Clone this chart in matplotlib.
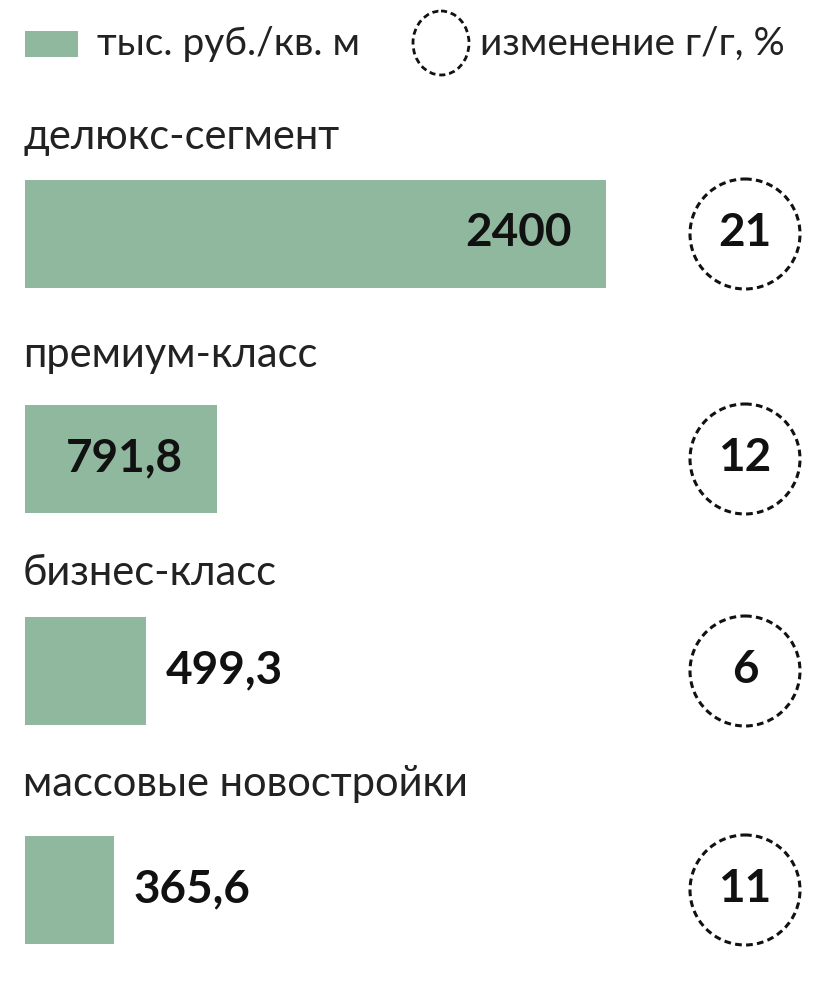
import matplotlib
matplotlib.use("Agg")
import matplotlib.pyplot as plt
from matplotlib.patches import Ellipse, Rectangle

# Price per square metre by housing segment, and year-over-year change
categories = ["делюкс-сегмент", "премиум-класс", "бизнес-класс", "массовые новостройки"]
prices = [2400, 791.8, 499.3, 365.6]
price_labels = ["2400", "791,8", "499,3", "365,6"]
yoy_change = [21, 12, 6, 11]
legend_labels = ["тыс. руб./кв. м", "изменение г/г, %"]

BAR_COLOR = "#8fb89e"
TEXT_COLOR = "#222222"
NUM_COLOR = "#111111"
FONT = ["Lato", "DejaVu Sans"]

W, H = 836, 984
fig = plt.figure(figsize=(W / 100, H / 100), dpi=100)
fig.patch.set_facecolor("white")

# Bar axes: x in value units, y in pixel rows
bar_left_px, bar_right_px = 25, 606
scale = (bar_right_px - bar_left_px) / max(prices)
ax = fig.add_axes([0, 0, 1, 1])
ax.set_xlim(-bar_left_px / scale, (W - bar_left_px) / scale)
ax.set_ylim(H, 0)
ax.axis("off")

# Overlay in pixel coordinates for text, circles and legend
ov = fig.add_axes([0, 0, 1, 1])
ov.set_xlim(0, W)
ov.set_ylim(H, 0)
ov.axis("off")
ov.patch.set_alpha(0)

bar_centers = [234, 459, 671, 890]
label_y = [137, 355, 573, 784]
circle_x = 745
bar_h = 108

for i, (cat, val, lab, chg) in enumerate(zip(categories, prices, price_labels, yoy_change)):
    yc = bar_centers[i]
    ax.barh(yc, val, height=bar_h, left=0, color=BAR_COLOR, edgecolor="none")
    ov.text(23, label_y[i], cat, fontsize=30, color=TEXT_COLOR, family=FONT,
            ha="left", va="center")
    end_px = bar_left_px + val * scale
    if end_px - bar_left_px > 170:
        ov.text(end_px - 34, yc - 1, lab, fontsize=33, fontweight="bold",
                color=NUM_COLOR, family=FONT, ha="right", va="center")
    else:
        ov.text(end_px + 20, yc - 1, lab, fontsize=33, fontweight="bold",
                color=NUM_COLOR, family=FONT, ha="left", va="center")
    ov.add_patch(Ellipse((circle_x, yc), 110, 110, fill=False, edgecolor=NUM_COLOR,
                         linewidth=2.2, linestyle=(0, (2.2, 1.4))))
    ov.text(circle_x, yc - 1, str(chg), fontsize=33, fontweight="bold",
            color=NUM_COLOR, family=FONT, ha="center", va="center")

# Legend
ov.add_patch(Rectangle((25, 31), 53, 26, facecolor=BAR_COLOR, edgecolor="none"))
ov.text(97, 44, legend_labels[0], fontsize=28, color=TEXT_COLOR, family=FONT,
        ha="left", va="center")
ov.add_patch(Ellipse((441, 43), 56, 64, fill=False, edgecolor=NUM_COLOR,
                     linewidth=2.0, linestyle=(0, (2.2, 1.4))))
ov.text(480, 44, legend_labels[1], fontsize=28, color=TEXT_COLOR, family=FONT,
        ha="left", va="center")

fig.savefig("out.png", dpi=100, facecolor="white")
